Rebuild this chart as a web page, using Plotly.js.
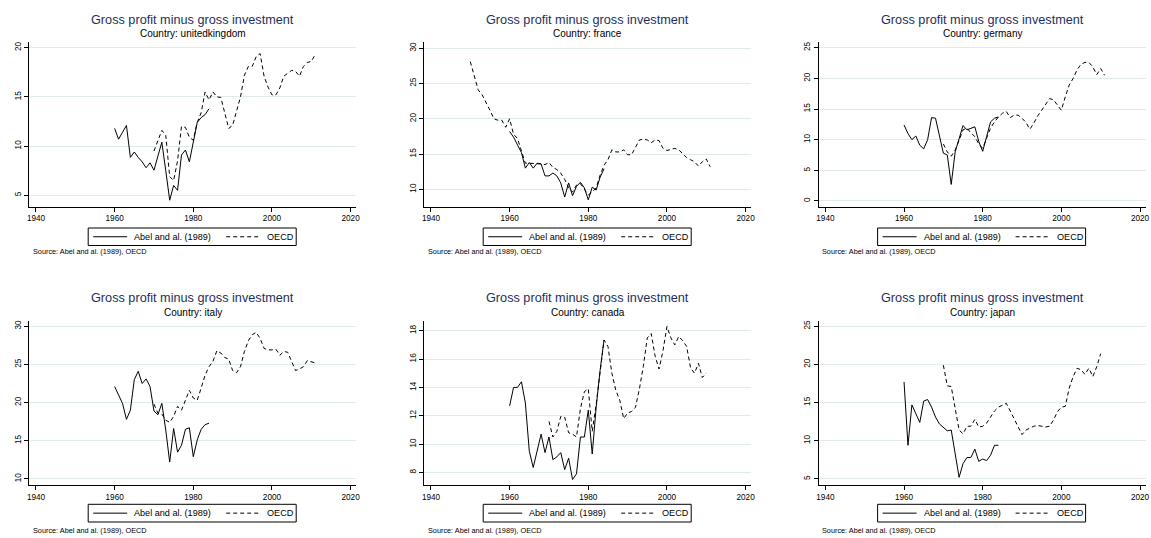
<!DOCTYPE html>
<html><head><meta charset="utf-8">
<script src="https://cdn.plot.ly/plotly-3.0.1.min.js"></script>
<style>html,body{margin:0;padding:0;background:#fff;} #chart{width:1151px;height:538px;}</style>
</head><body><div id="chart"></div>
<script>
// ---------- DATA ----------
const abelYears = [1960,1961,1962,1963,1964,1965,1966,1967,1968,1969,1970,1971,1972,1973,1974,1975,1976,1977,1978,1979,1980,1981,1982,1983,1984];
const oecdYears1970to2011 = [1970,1971,1972,1973,1974,1975,1976,1977,1978,1979,1980,1981,1982,1983,1984,1985,1986,1987,1988,1989,1990,1991,1992,1993,1994,1995,1996,1997,1998,1999,2000,2001,2002,2003,2004,2005,2006,2007,2008,2009,2010,2011];
const oecdYears1950to2011 = [1950,1951,1952,1953,1954,1955,1956,1957,1958,1959,1960,1961,1962,1963,1964,1965,1966,1967,1968,1969,1970,1971,1972,1973,1974,1975,1976,1977,1978,1979,1980,1981,1982,1983,1984,1985,1986,1987,1988,1989,1990,1991,1992,1993,1994,1995,1996,1997,1998,1999,2000,2001,2002,2003,2004,2005,2006,2007,2008,2009,2010,2011];
const oecdYears1970to2010 = [1970,1971,1972,1973,1974,1975,1976,1977,1978,1979,1980,1981,1982,1983,1984,1985,1986,1987,1988,1989,1990,1991,1992,1993,1994,1995,1996,1997,1998,1999,2000,2001,2002,2003,2004,2005,2006,2007,2008,2009,2010];

const ukAbel = [11.8,10.7,11.4,12.1,8.85,9.4,8.85,8.4,7.8,8.3,7.55,8.9,10.4,7.5,4.5,6.0,5.5,9.1,9.6,8.4,10.4,12.4,12.9,13.2,13.8];
const ukOecd = [9.5,10.6,11.6,11.1,6.9,6.5,8.5,12.0,11.9,10.9,10.6,12.4,13.4,15.5,14.7,15.5,15.0,14.95,13.5,11.8,12.1,13.5,15.0,17.2,18.1,18.1,19.1,19.4,17.1,16.0,15.2,15.2,15.9,17.1,17.4,17.7,17.6,17.1,18.1,18.5,18.6,19.3];

const frAbel = [18.2,17.4,16.3,15.2,13.0,13.8,13.0,13.7,13.6,11.9,11.9,12.3,11.9,10.9,8.9,10.9,9.1,10.4,11.0,10.2,8.5,10.3,9.9,11.7,12.9];
const frOecd = [28.1,26.2,24.1,23.4,22.4,21.2,20.0,19.8,19.8,18.8,20.0,17.8,17.2,15.6,13.7,13.7,13.7,13.6,13.6,13.5,13.8,13.1,12.8,12.3,11.4,10.2,9.6,10.6,10.8,10.0,9.2,9.6,10.2,12.0,13.4,14.2,15.6,15.3,15.3,15.6,14.9,14.9,16.0,17.0,17.1,17.0,16.6,17.0,16.9,15.8,15.5,15.6,15.8,15.6,15.1,14.5,14.2,13.9,13.3,13.9,14.3,13.2];

const deAbel = [12.4,11.0,10.0,10.6,9.1,8.5,10.0,13.6,13.5,10.5,7.8,7.5,2.7,8.0,10.2,12.3,11.6,11.9,12.1,9.7,8.1,10.5,12.9,13.5,13.7];
const deOecd = [9.3,8.0,7.3,8.3,9.9,11.6,11.9,11.1,10.5,9.3,8.6,10.2,11.9,12.9,13.7,14.3,14.6,13.6,14.0,14.0,13.5,12.8,11.7,12.7,13.9,14.8,15.8,16.7,16.5,15.6,14.8,17.0,18.9,20.0,21.4,22.3,22.6,22.6,21.9,20.6,21.6,20.5];

const itAbel = [22.1,21.1,19.9,17.8,19.0,23.0,24.1,22.5,23.1,22.1,18.9,18.4,19.9,16.4,12.2,16.6,13.5,14.4,16.5,16.7,12.9,15.1,16.5,17.1,17.3];
const itOecd = [19.8,18.6,18.5,17.7,17.4,18.2,19.5,19.0,20.3,21.6,20.6,20.3,21.9,23.6,24.7,25.4,26.8,26.5,25.9,25.7,24.2,23.9,24.7,26.7,28.1,28.9,29.2,28.4,27.1,26.9,26.9,27.0,26.2,26.7,26.6,25.4,24.2,24.4,24.7,25.5,25.4,25.2];

const caAbel = [12.7,14.0,14.0,14.4,12.9,9.5,8.35,9.5,10.7,9.4,10.5,8.9,9.1,9.4,8.2,9.0,7.5,7.9,10.5,10.5,12.4,9.3,12.6,15.2,17.35];
const caOecd = [11.6,10.5,10.9,11.95,11.9,10.8,10.7,10.5,12.5,13.7,13.9,10.9,12.8,15.3,17.35,16.9,15.0,13.8,13.1,11.8,12.2,12.3,12.6,13.9,15.5,17.5,17.8,16.2,15.3,16.6,18.3,17.5,17.0,17.6,17.3,16.9,15.4,15.0,15.7,14.7,15.0];

const jpAbel = [17.7,9.4,14.7,13.6,12.4,15.2,15.4,14.4,13.1,12.2,11.8,11.3,11.4,8.3,5.2,7.0,7.8,7.8,8.9,7.3,7.6,7.4,8.1,9.4,9.4];
const jpOecd = [19.9,17.2,17.1,14.0,11.4,10.9,11.9,11.9,12.8,11.8,11.9,12.3,13.1,13.9,14.4,14.7,14.9,13.9,12.8,11.7,10.8,11.4,11.7,11.9,12.0,11.9,11.8,11.9,12.7,13.8,14.4,14.5,16.9,18.4,19.5,19.3,18.7,19.5,18.4,19.7,21.4];

const countries = ['unitedkingdom','france','germany','italy','canada','japan'];
const xTickVals = [1940,1960,1980,2000,2020];
const seriesNames = ['Abel and al. (1989)','OECD'];
const titleText = 'Gross profit minus gross investment';
const sourceText = 'Source: Abel and al. (1989), OECD';

// ---------- LAYOUT ----------
const W = 1151, H = 538;
const FONT = 'Liberation Sans, Arial, Helvetica, sans-serif';
const DASH = '4px,3px';
const colLeft = [29.3, 424.3, 818.7];
const axisW = 327;
const rowTop = [42.3, 320.7];
const axisH = 164.2;
const legendBox = [[228, 245.5], [504.3, 522]];
const sourceY = [252, 530.7];

const panels = [
  {abelY: ukAbel, oecdX: oecdYears1970to2011, oecdY: ukOecd, yRange:[3.86,20.55], yTicks:[5,10,15,20]},
  {abelY: frAbel, oecdX: oecdYears1950to2011, oecdY: frOecd, yRange:[7.56,30.85], yTicks:[10,15,20,25,30]},
  {abelY: deAbel, oecdX: oecdYears1970to2011, oecdY: deOecd, yRange:[-0.9,25.88], yTicks:[0,5,10,15,20,25]},
  {abelY: itAbel, oecdX: oecdYears1970to2011, oecdY: itOecd, yRange:[9.21,30.73], yTicks:[10,15,20,25,30]},
  {abelY: caAbel, oecdX: oecdYears1970to2010, oecdY: caOecd, yRange:[7.12,18.71], yTicks:[8,10,12,14,16,18]},
  {abelY: jpAbel, oecdX: oecdYears1970to2010, oecdY: jpOecd, yRange:[4.21,25.73], yTicks:[5,10,15,20,25]}
];

const px = v => v / W;
const py = v => 1 - v / H;

const traces = [];
const layout = {
  width: W, height: H,
  margin: {l:0, r:0, t:0, b:0},
  paper_bgcolor: '#fff', plot_bgcolor: '#fff',
  font: {family: FONT, color: '#000'},
  showlegend: false,
  annotations: [], shapes: []
};

panels.forEach((p, i) => {
  const s = i === 0 ? '' : String(i + 1);
  const col = i % 3, row = Math.floor(i / 3);
  const left = colLeft[col], top = rowTop[row];
  const cx = left + axisW / 2;

  traces.push({
    x: abelYears, y: p.abelY, type: 'scatter', mode: 'lines',
    name: seriesNames[0], line: {color: '#000', width: 1},
    xaxis: 'x' + s, yaxis: 'y' + s, hoverinfo: 'skip'
  });
  traces.push({
    x: p.oecdX, y: p.oecdY, type: 'scatter', mode: 'lines',
    name: seriesNames[1], line: {color: '#000', width: 1, dash: DASH},
    xaxis: 'x' + s, yaxis: 'y' + s, hoverinfo: 'skip'
  });

  layout['xaxis' + s] = {
    domain: [px(left), px(left + axisW)], anchor: 'y' + s,
    range: [1938.3, 2021.45], tickvals: xTickVals, ticktext: xTickVals.map(String),
    showgrid: false, zeroline: false, showline: true, linecolor: '#000', linewidth: 1,
    ticks: 'outside', ticklen: 4, tickwidth: 1, tickcolor: '#000',
    tickfont: {size: 8.2, family: FONT, color: '#000'}, fixedrange: true
  };
  layout['yaxis' + s] = {
    domain: [py(top + axisH), py(top)], anchor: 'x' + s,
    range: p.yRange, tickvals: p.yTicks, ticktext: p.yTicks.map(String), tickangle: -90,
    showgrid: true, gridcolor: '#e1eaed', gridwidth: 1, zeroline: false,
    showline: true, linecolor: '#000', linewidth: 1,
    ticks: 'outside', ticklen: 4, tickwidth: 1, tickcolor: '#000',
    tickfont: {size: 8.2, family: FONT, color: '#000'}, fixedrange: true
  };

  // legend (drawn manually to match the boxed key)
  const [lt, lb] = legendBox[row];
  const lm = (lt + lb) / 2;
  layout.shapes.push({type: 'rect', xref: 'paper', yref: 'paper',
    x0: px(cx - 104.6), x1: px(cx + 103.4), y0: py(lb), y1: py(lt),
    line: {color: '#000', width: 1}, fillcolor: 'rgba(0,0,0,0)'});
  layout.shapes.push({type: 'line', xref: 'paper', yref: 'paper',
    x0: px(cx - 99.6), x1: px(cx - 65.6), y0: py(lm), y1: py(lm),
    line: {color: '#000', width: 1}});
  layout.shapes.push({type: 'line', xref: 'paper', yref: 'paper',
    x0: px(cx + 33.4), x1: px(cx + 67.4), y0: py(lm), y1: py(lm),
    line: {color: '#000', width: 1, dash: DASH}});
  layout.annotations.push({text: seriesNames[0], xref: 'paper', yref: 'paper',
    x: px(cx - 60.6), y: py(lm), xanchor: 'left', yanchor: 'middle', showarrow: false,
    font: {size: 9.1, family: FONT, color: '#000'}});
  layout.annotations.push({text: seriesNames[1], xref: 'paper', yref: 'paper',
    x: px(cx + 72.4), y: py(lm), xanchor: 'left', yanchor: 'middle', showarrow: false,
    font: {size: 9.1, family: FONT, color: '#000'}});

  layout.annotations.push({
    text: titleText, xref: 'paper', yref: 'paper', x: px(cx), y: py(top - 22.5),
    xanchor: 'center', yanchor: 'middle', showarrow: false,
    font: {size: 12.7, family: FONT, color: '#1c2f5e'}
  });
  layout.annotations.push({
    text: 'Country: ' + countries[i], xref: 'paper', yref: 'paper', x: px(cx), y: py(top - 8.4),
    xanchor: 'center', yanchor: 'middle', showarrow: false,
    font: {size: 10, family: FONT, color: '#000'}
  });
  layout.annotations.push({
    text: sourceText, xref: 'paper', yref: 'paper', x: px(left + 1.7), y: py(sourceY[row]),
    xanchor: 'left', yanchor: 'middle', showarrow: false,
    font: {size: 7.3, family: FONT, color: '#000'}
  });
});

Plotly.newPlot('chart', traces, layout, {displayModeBar: false, staticPlot: true});
</script>
</body></html>
